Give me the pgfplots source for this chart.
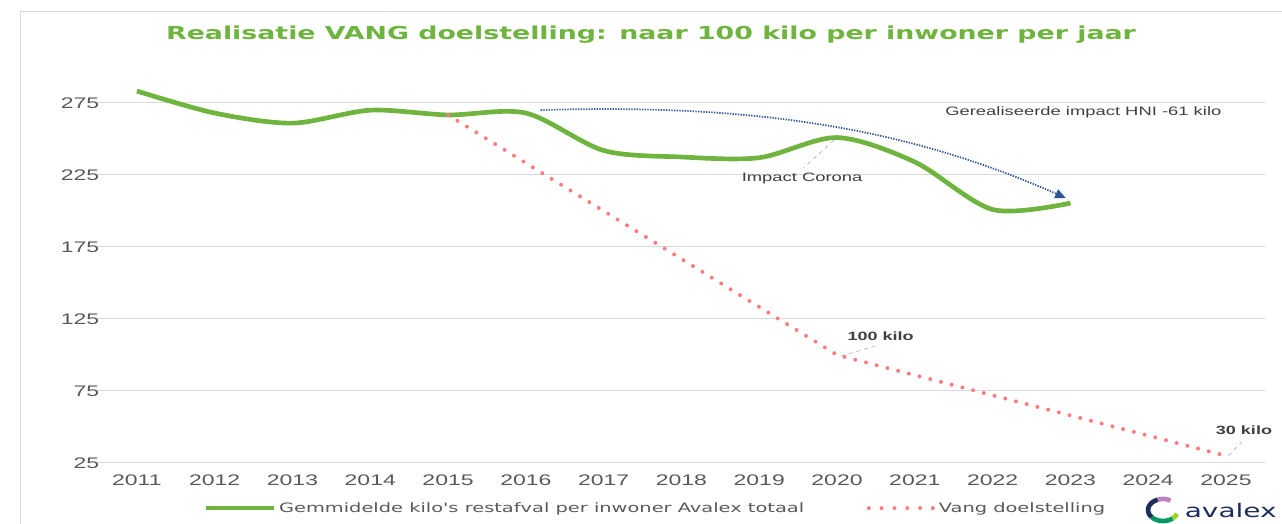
\documentclass[border=0pt]{standalone}
\usepackage{pgfplots}
\pgfplotsset{compat=1.18}
\usetikzlibrary{arrows.meta}
\usepackage{fontspec}
\setmainfont{Liberation Sans}[FakeStretch=1.5]
\newfontfamily\verdana{DejaVu Sans}[FakeStretch=1.5]
\definecolor{cgreen}{HTML}{6EB43F}
\definecolor{cred}{HTML}{FF7C80}
\definecolor{cblue}{HTML}{2F5597}
\definecolor{cgrid}{HTML}{D9D9D9}
\definecolor{ctick}{HTML}{595959}
\definecolor{ctext}{HTML}{404040}
\definecolor{cnavy}{HTML}{1E2D5E}
\begin{document}
\begin{tikzpicture}
\path[use as bounding box] (0,0) rectangle (961.5pt,393pt);
\begin{scope}[x=0.75pt,y=-0.75pt,shift={(0,393pt)}]
\draw[cgrid, line width=0.75pt] (20,524) -- (20,12) -- (1282,12);
\node[font=\verdana\bfseries\fontsize{13.4}{16}\selectfont, text=cgreen] at (651,35) {Realisatie VANG doelstelling: naar 100 kilo per inwoner per jaar};
% logo
\draw[line width=3.5pt, teal!80!green] (1163,510) ++(50:15 and 11) arc[start angle=50, end angle=140, x radius=15, y radius=11];
\draw[line width=3.5pt, yellow!60!green] (1163,510) ++(20:15 and 11) arc[start angle=20, end angle=50, x radius=15, y radius=11];
\draw[line width=3.5pt, cnavy] (1163,510) ++(140:15 and 11) arc[start angle=140, end angle=250, x radius=15, y radius=11];
\draw[line width=3.5pt, violet!50!white] (1163,510) ++(250:15 and 11) arc[start angle=250, end angle=300, x radius=15, y radius=11];
\node[anchor=east, inner sep=0pt, font=\verdana\fontsize{14}{16}\selectfont, text=cnavy] at (1277,511) {avalex};
\end{scope}
\begin{axis}[
  at={(73.5pt,45.75pt)}, anchor=south west, scale only axis,
  width=875.25pt, height=297pt,
  xmin=2010.5, xmax=2025.5, ymin=25, ymax=300,
  ytick={25,75,...,275}, xtick={2011,...,2025},
  axis line style={draw=none}, major tick length=0pt,
  ymajorgrids, grid style={cgrid, line width=0.75pt},
  tick label style={font=\fontsize{11.5}{12}\selectfont, text=ctick},
  /pgf/number format/assume math mode=true,
  /pgf/number format/1000 sep={},
  xticklabel style={yshift=-5pt},
  yticklabel style={anchor=east, xshift=4.5pt},
  clip=false,
  legend style={at={(0.478,-0.114)}, anchor=center, draw=none, fill=none,
    legend columns=2, font=\verdana\fontsize{9.7}{12}\selectfont, text=ctick,
    /tikz/every even column/.append style={column sep=45pt}},
  legend image code/.code={\draw[#1] (0pt,0pt) -- (51pt,0pt);},
]
\addplot[cgreen, line width=3.5pt, smooth, tension=0.5] coordinates {
(2011,283.3) (2012,268) (2013,261) (2014,270) (2015,266.7) (2016,268)
(2017,242) (2018,237.5) (2019,237) (2020,251) (2021,234) (2022,201) (2023,205.5)};
\addlegendentry{Gemmidelde kilo's restafval per inwoner Avalex totaal}
\addplot[cred, line width=3pt, line cap=round, dash pattern=on 0pt off 8.3pt,
  legend image code/.code={\draw[cred, line width=3pt, line cap=round, dash pattern=on 0pt off 9.6pt] (1pt,0pt) -- (50pt,0pt);}] coordinates {
(2015,266.7) (2016,233.3) (2017,200) (2018,166.7) (2019,133.3) (2020,100)
(2021,86) (2022,72) (2023,58) (2024,44) (2025,30)};
\addlegendentry{Vang doelstelling}
\draw[cblue, line width=1.3pt, dash pattern=on 1pt off 1pt, -{Triangle[length=8pt,width=7pt]}]
  (axis cs:2016.19,270.1) .. controls (axis cs:2018.83,274.3) and (axis cs:2020.82,259.7) .. (axis cs:2022.94,209);
\node[anchor=west, font=\fontsize{9.2}{12}\selectfont, text=ctext] at (axis cs:2021.33,268.75) {Gerealiseerde impact HNI -61 kilo};
\draw[gray!60, dashed, line width=0.5pt] (axis cs:2019.96,249.3) -- (axis cs:2019.57,229.9);
\node[font=\fontsize{9.2}{12}\selectfont, text=ctext] at (axis cs:2019.55,222.9) {Impact Corona};
\draw[gray!60, dashed, line width=0.5pt] (axis cs:2020.05,99.3) -- (axis cs:2020.54,107);
\node[font=\bfseries\fontsize{9}{12}\selectfont, text=ctext] at (axis cs:2020.56,113.2) {100 kilo};
\draw[gray!60, dashed, line width=0.5pt] (axis cs:2025.03,30) -- (axis cs:2025.2,39.6);
\node[font=\bfseries\fontsize{9}{12}\selectfont, text=ctext] at (axis cs:2025.23,48) {30 kilo};
\end{axis}
\end{tikzpicture}
\end{document}
